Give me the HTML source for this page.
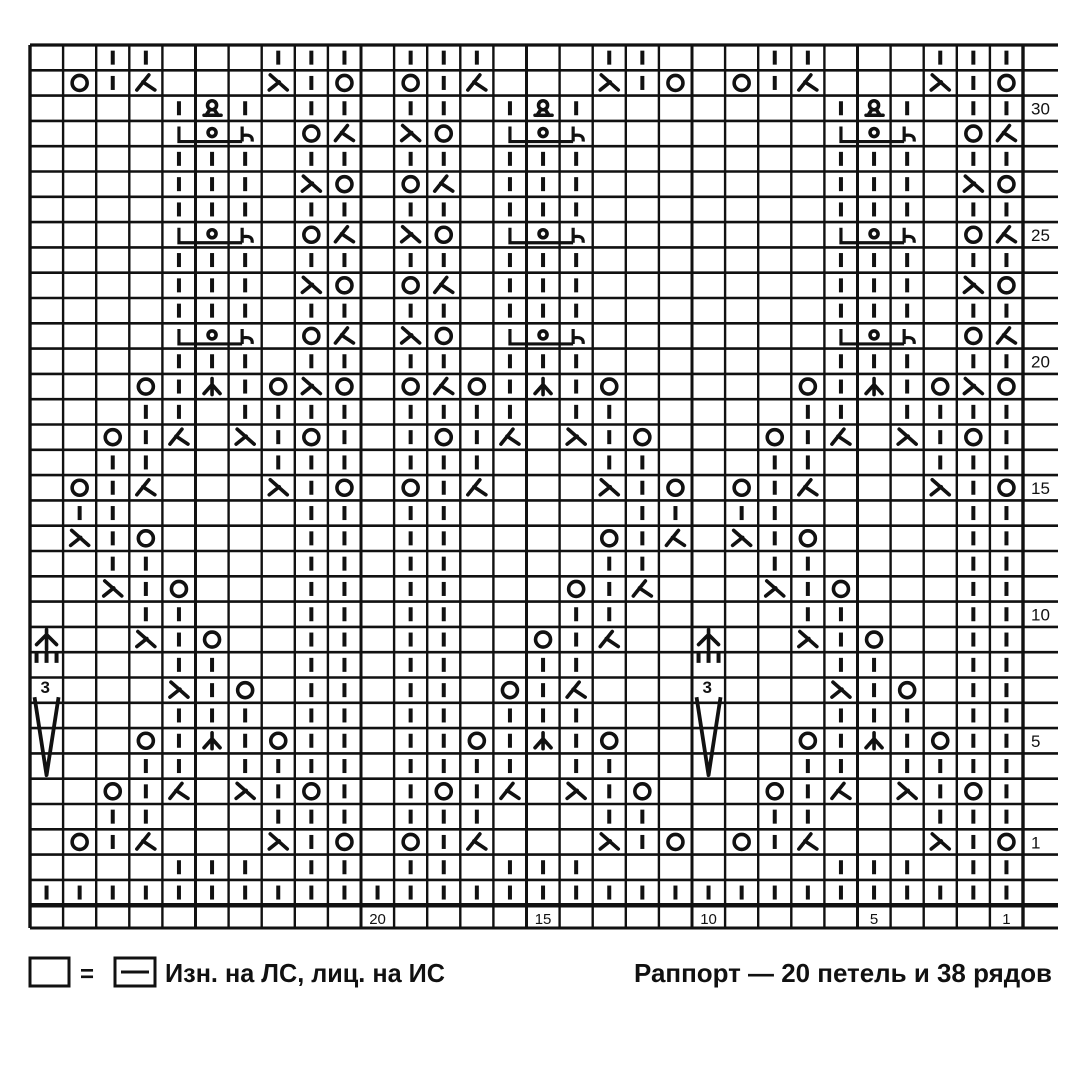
<!DOCTYPE html>
<html><head><meta charset="utf-8">
<style>
html,body{margin:0;padding:0;background:#fff;}
svg{display:block;}
</style></head>
<body>
<svg id="s" width="1080" height="1080" viewBox="0 0 1080 1080" xmlns="http://www.w3.org/2000/svg">
<rect width="1080" height="1080" fill="#fff"/>
<g id="g"></g>
<g font-family="Liberation Sans Narrow, Liberation Sans, sans-serif" font-weight="bold" fill="#111">
<rect x="30" y="958" width="39" height="28" fill="none" stroke="#111" stroke-width="3"/>
<text x="80" y="982" font-size="24">=</text>
<rect x="115" y="958" width="40" height="28" fill="none" stroke="#111" stroke-width="3"/>
<line x1="121" y1="972" x2="149" y2="972" stroke="#111" stroke-width="3"/>
<text x="165" y="982" font-size="26" textLength="280" lengthAdjust="spacingAndGlyphs">Изн. на ЛС, лиц. на ИС</text>
<text x="634" y="982" font-size="26" textLength="418" lengthAdjust="spacingAndGlyphs">Раппорт — 20 петель и 38 рядов</text>
</g>
</svg>
<script>
var R=[
"..||...|||.|||...||...||...|||",
".O|K...S|O.O|K...S|O.O|K...S|O",
"....|Q|.||.||.|Q|.......|Q|.||",
"....BoE.OK.SO.BoE.......BoE.OK",
"....|||.||.||.|||.......|||.||",
"....|||.SO.OK.|||.......|||.SO",
"....|||.||.||.|||.......|||.||",
"....BoE.OK.SO.BoE.......BoE.OK",
"....|||.||.||.|||.......|||.||",
"....|||.SO.OK.|||.......|||.SO",
"....|||.||.||.|||.......|||.||",
"....BoE.OK.SO.BoE.......BoE.OK",
"....|||.||.||.|||.......|||.||",
"...O|A|OSO.OKO|A|O.....O|A|OSO",
"...||.||||.||||.||.....||.||||",
"..O|K.S|O|.|O|K.S|O...O|K.S|O|",
"..||...|||.|||...||...||...|||",
".O|K...S|O.O|K...S|O.O|K...S|O",
".||.....||.||.....||.||.....||",
".S|O....||.||....O|K.S|O....||",
"..||....||.||....||...||....||",
"..S|O...||.||...O|K...S|O...||",
"...||...||.||...||.....||...||",
"U..S|O..||.||..O|K..U..S|O..||",
"T...||..||.||..||...T...||..||",
"N...S|O.||.||.O|K...N...S|O.||",
"....|||.||.||.|||.......|||.||",
"...O|A|O||.||O|A|O.....O|A|O||",
"...||.||||.||||.||.....||.||||",
"..O|K.S|O|.|O|K.S|O...O|K.S|O|",
"..||...|||.|||...||...||...|||",
".O|K...S|O.O|K...S|O.O|K...S|O",
"....|||.||.||.|||.......|||.||",
"||||||||||||||||||||||||||||||"];
var x0=30,w=33.1,y0=45,h=25.3,s="";
var K='stroke="#111" stroke-width="3.6" fill="none" stroke-linecap="round"';
function L(a,b,c,d,sw){return '<line x1="'+a+'" y1="'+b+'" x2="'+c+'" y2="'+d+'" stroke="#111" stroke-width="'+(sw||2.6)+'"/>';}
// grid
for(var r=0;r<=34;r++){var y=y0+r*h;s+=L(x0,y,r<=34?1058:0,y,(r==34?4.5:(r==0?3.2:2.6)));}
s+=L(x0,928,1058,928,3);
for(var c=0;c<=30;c++){var x=x0+c*w;s+=L(x,y0,x,928,(c==0||c==30)?3.4:(c%5==0?3:2.4));}
// symbols
for(var r=0;r<34;r++){for(var c=0;c<30;c++){var ch=R[r][c];if(ch=='.')continue;
var cx=x0+c*w+w/2,cy=y0+r*h+h/2;
if(ch=='|'){s+='<rect x="'+(cx-2)+'" y="'+(cy-7)+'" width="4" height="14" fill="#111"/>';}
else if(ch=='O'){s+='<circle cx="'+cx+'" cy="'+cy+'" r="7.5" '+K+'/>';}
else if(ch=='K'){s+='<path d="M'+(cx-9)+','+(cy+7)+' L'+(cx+3)+','+(cy-8)+' M'+(cx-3)+','+(cy-1)+' L'+(cx+9)+','+(cy+7)+'" '+K+'/>';}
else if(ch=='S'){s+='<path d="M'+(cx-8)+','+(cy-8)+' L'+(cx+9)+','+(cy+7)+' M'+(cx+1)+','+(cy-1)+' L'+(cx-9)+','+(cy+7)+'" '+K+'/>';}
else if(ch=='A'){s+='<path d="M'+cx+','+(cy-8)+' L'+cx+','+(cy+8)+' M'+(cx-8)+','+(cy+7)+' L'+cx+','+(cy-2)+' L'+(cx+8)+','+(cy+7)+'" '+K+'/>';}
else if(ch=='U'){s+='<path d="M'+cx+','+(cy-10)+' L'+cx+','+(cy+10)+' M'+(cx-10)+','+(cy+5)+' L'+cx+','+(cy-5)+' L'+(cx+10)+','+(cy+5)+'" '+K+'/>';}
else if(ch=='T'){for(var k=-1;k<=1;k++)s+='<rect x="'+(cx+k*10-2)+'" y="'+(cy-13)+'" width="4" height="11" fill="#111"/>';}
else if(ch=='N'){s+='<text x="'+(cx-6)+'" y="'+(cy+3)+'" font-family="Liberation Sans, sans-serif" font-weight="bold" font-size="17" fill="#111">3</text>';
 s+='<path d="M'+(cx-12)+','+(cy+7)+' L'+cx+','+(cy+85)+' L'+(cx+12)+','+(cy+7)+'" stroke="#111" stroke-width="3.8" fill="none" stroke-linejoin="round"/>';}
else if(ch=='Q'){s+='<circle cx="'+cx+'" cy="'+(cy-3)+'" r="4.5" '+K+'/><path d="M'+(cx-2)+','+(cy+1)+' L'+(cx-6)+','+(cy+7)+' M'+(cx+2)+','+(cy+1)+' L'+(cx+6)+','+(cy+7)+' M'+(cx-8)+','+(cy+7)+' L'+(cx+9)+','+(cy+7)+'" '+K+'/>';}
else if(ch=='B'){s+='<path d="M'+cx+','+(cy-7)+' L'+cx+','+(cy+8)+' L'+(cx+w*2-3)+','+(cy+8)+'" stroke="#111" stroke-width="3.2" fill="none"/>';}
else if(ch=='o'){s+='<circle cx="'+cx+'" cy="'+(cy-1)+'" r="4" '+K+'/>';}
else if(ch=='E'){s+='<path d="M'+(cx-3)+','+(cy-7)+' L'+(cx-3)+','+(cy+8)+' M'+(cx-3)+','+(cy+2)+' Q'+(cx+8)+','+(cy)+' '+(cx+7)+','+(cy+8)+'" stroke="#111" stroke-width="3.2" fill="none"/>';}
}}
// right labels
var lab={2:"30",7:"25",12:"20",17:"15",22:"10",27:"5",31:"1"};
for(var r in lab){s+='<text x="1031" y="'+(y0+r*h+19)+'" font-family="Liberation Sans Narrow, Liberation Sans, sans-serif" font-size="17" fill="#111">'+lab[r]+'</text>';}
// bottom numbers
var bl={10:"20",15:"15",20:"10",25:"5",29:"1"};
for(var c in bl){var x=x0+c*w+w/2;s+='<text x="'+x+'" y="924" text-anchor="middle" font-family="Liberation Sans, sans-serif" font-size="15" fill="#111">'+bl[c]+'</text>';}
document.getElementById('g').innerHTML=s;
</script>
</body></html>
